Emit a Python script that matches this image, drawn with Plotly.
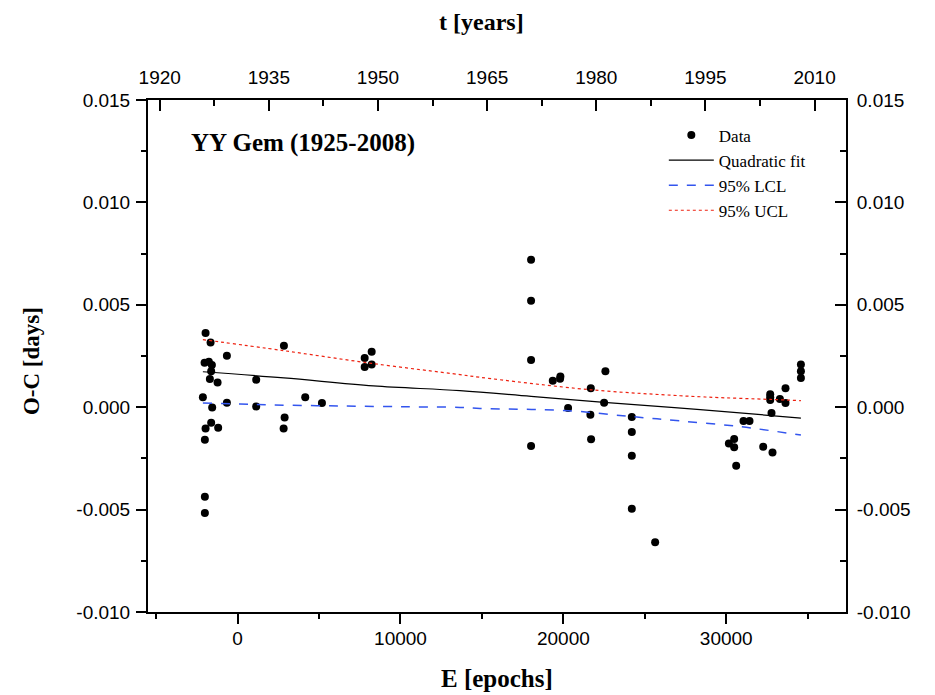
import plotly.graph_objects as go

# ---------------- data ----------------
epoch = [-1966, -1658, -2027, -1763, -1579, -1622, -1701, -1229, -657, -2131,
         -1560, -1622, -1966, -1192, -2009, -2009, -2009, -657, 1143, 1143,
         2844, 2887, 2826, 4152, 5178, 7801, 8231, 7801, 8231,
         18016, 18016, 18016, 18016, 19349, 19816, 19797, 22580, 21683, 22500,
         20289, 21658, 21701, 24201, 24201, 24201, 24201, 25633,
         34582, 34582, 34582, 33636, 32697, 32697, 32697, 33292, 33636, 32776,
         31057, 31425, 30485, 30160, 30485, 32267, 32838, 30608]
oc = [0.00362, 0.00316, 0.00217, 0.00222, 0.00206, 0.00175, 0.00138, 0.00120, 0.00251, 0.00048,
      -0.00001, -0.00076, -0.00104, -0.00100, -0.00159, -0.00437, -0.00517, 0.00022, 0.00134, 0.00004,
      0.00300, -0.00050, -0.00104, 0.00048, 0.00021, 0.00240, 0.00271, 0.00196, 0.00208,
      0.00720, 0.00520, 0.00230, -0.00189, 0.00129, 0.00150, 0.00139, 0.00175, 0.00092, 0.00022,
      -0.00004, -0.00037, -0.00157, -0.00048, -0.00121, -0.00237, -0.00496, -0.00660,
      0.00208, 0.00175, 0.00143, 0.00092, 0.00063, 0.00048, 0.00035, 0.00040, 0.00021, -0.00028,
      -0.00067, -0.00067, -0.00155, -0.00177, -0.00196, -0.00193, -0.00221, -0.00286]

fit_e = [-2131, 2844, 8329, 13655, 18016, 22500, 28397, 34582]
fit_oc = [0.00173, 0.00143, 0.00104, 0.00081, 0.00053, 0.00024, -0.00012, -0.00053]

lcl_e = [-2131, 146, 2168, 6284, 10399, 13655, 14883, 20289, 24201, 27168, 30854, 34582]
lcl_oc = [0.00021, 0.00016, 0.00011, 0.00006, 0.00002, -0.00001, -0.00006, -0.00017, -0.00046,
          -0.00067, -0.00095, -0.00136]

ucl_e = [-2131, 2844, 8231, 13655, 14883, 21683, 27168, 28397, 29214, 32697, 34582]
ucl_oc = [0.00330, 0.00276, 0.00214, 0.00159, 0.00146, 0.00085, 0.00056, 0.00051, 0.00048,
          0.00038, 0.00032]

e_ticks = [0, 10000, 20000, 30000]
e_ticktext = ["0", "10000", "20000", "30000"]
e_minor = [-5000, 5000, 15000, 25000, 35000]
year_ticks = [1920, 1935, 1950, 1965, 1980, 1995, 2010]
year_ticktext = ["1920", "1935", "1950", "1965", "1980", "1995", "2010"]
year_minor = [1927.5, 1942.5, 1957.5, 1972.5, 1987.5, 2002.5]
oc_ticks = [-0.010, -0.005, 0.000, 0.005, 0.010, 0.015]
oc_ticktext = ["-0.010", "-0.005", "0.000", "0.005", "0.010", "0.015"]
oc_minor = [-0.0075, -0.0025, 0.0025, 0.0075, 0.0125]

e_range = [-5500, 37350]
year_range = [1918.39, 2014.32]
oc_range = [-0.010, 0.015]

# ---------------- figure ----------------
SERIF = "Liberation Serif"
SANS = "Liberation Sans"

fig = go.Figure()
fig.add_trace(go.Scatter(x=epoch, y=oc, mode="markers", name="Data", legendgroup="a",
                         marker=dict(color="black", size=8)))
fig.add_trace(go.Scatter(x=fit_e, y=fit_oc, mode="lines", name="Quadratic fit", legendgroup="b",
                         line=dict(color="black", width=1.2), line_shape="spline"))
fig.add_trace(go.Scatter(x=lcl_e, y=lcl_oc, mode="lines", name="95% LCL", legendgroup="c",
                         line=dict(color="#3355ee", width=1.5, dash="dash"), line_shape="spline"))
fig.add_trace(go.Scatter(x=ucl_e, y=ucl_oc, mode="lines", name="95% UCL", legendgroup="d",
                         line=dict(color="#ee2211", width=1.2, dash="dot"), line_shape="spline"))
fig.add_trace(go.Scatter(x=[], y=[], xaxis="x2", yaxis="y2", showlegend=False,
                         hoverinfo="skip"))

tickfont = dict(family=SANS, size=19, color="black")
common = dict(showline=True, linecolor="black", linewidth=2, showgrid=False,
              zeroline=False, tickcolor="black", tickwidth=2, tickfont=tickfont,
              tickmode="array")

fig.update_layout(
    width=935, height=695,
    margin=dict(l=148, r=89, t=100, b=83),
    paper_bgcolor="white", plot_bgcolor="white",
    xaxis=dict(range=e_range, tickvals=e_ticks, ticktext=e_ticktext,
               ticks="outside", ticklen=10,
               minor=dict(tickmode="array", tickvals=e_minor, ticks="outside",
                          ticklen=5, tickwidth=2, tickcolor="black"),
               ticklabelstandoff=-2, **common),
    xaxis2=dict(range=year_range, overlaying="x", side="top", anchor="y",
                tickvals=year_ticks, ticktext=year_ticktext,
                ticks="inside", ticklen=11,
                minor=dict(tickmode="array", tickvals=year_minor, ticks="inside",
                           ticklen=6, tickwidth=2, tickcolor="black"),
                ticklabelstandoff=6, **common),
    yaxis=dict(range=oc_range, tickvals=oc_ticks, ticktext=oc_ticktext,
               ticks="outside", ticklen=10,
               minor=dict(tickmode="array", tickvals=oc_minor, ticks="outside",
                          ticklen=5, tickwidth=2, tickcolor="black"),
               ticklabelstandoff=2, **common),
    yaxis2=dict(range=oc_range, overlaying="y", side="right", anchor="x",
                tickvals=oc_ticks, ticktext=oc_ticktext,
                ticks="inside", ticklen=11,
                minor=dict(tickmode="array", tickvals=oc_minor, ticks="inside",
                           ticklen=6, tickwidth=2, tickcolor="black"),
                ticklabelstandoff=5, **common),
    showlegend=True,
    legend=dict(x=0.739, y=0.966, xanchor="left", yanchor="top",
                bgcolor="rgba(0,0,0,0)", borderwidth=0,
                font=dict(family=SERIF, size=17, color="black"),
                itemwidth=45, tracegroupgap=0),
    annotations=[
        dict(text="<b>t [years]</b>", x=0.4785, y=1.152, xref="paper", yref="paper",
             showarrow=False, xanchor="center", yanchor="middle",
             font=dict(family=SERIF, size=24, color="black")),
        dict(text="<b>E [epochs]</b>", x=0.5007, y=-0.1297, xref="paper", yref="paper",
             showarrow=False, xanchor="center", yanchor="middle",
             font=dict(family=SERIF, size=25, color="black")),
        dict(text="<b>O-C [days]</b>", x=-0.1666, y=0.4896, xref="paper", yref="paper",
             showarrow=False, xanchor="center", yanchor="middle", textangle=-90,
             font=dict(family=SERIF, size=23, color="black")),
        dict(text="<b>YY Gem (1925-2008)</b>", x=0.0587, y=0.9153, xref="paper", yref="paper",
             showarrow=False, xanchor="left", yanchor="middle",
             font=dict(family=SERIF, size=25, color="black")),
    ],
)

fig.write_html("out.html")
